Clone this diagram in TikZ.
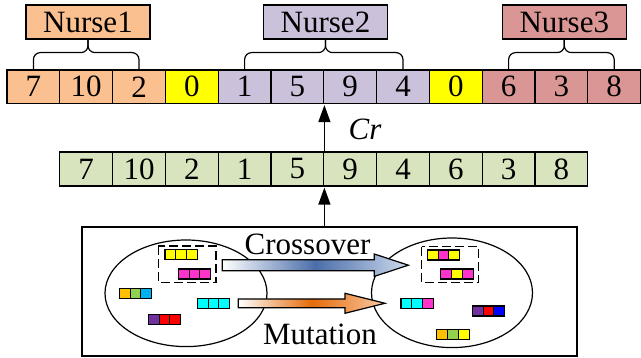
\documentclass[tikz,border=0pt]{standalone}
\usepackage{fontspec}
\setmainfont{Liberation Serif}
\usetikzlibrary{arrows.meta,calc}
\definecolor{cpeach}{HTML}{FAC090}
\definecolor{clav}{HTML}{CCC1DA}
\definecolor{crose}{HTML}{DA9694}
\definecolor{cgreen}{HTML}{D7E4BD}
\definecolor{cyel}{HTML}{FFFF00}
\definecolor{cmag}{HTML}{FF33CC}
\definecolor{corg}{HTML}{FFC000}
\definecolor{cgrn}{HTML}{92D050}
\definecolor{clblue}{HTML}{00B0F0}
\definecolor{ccyan}{HTML}{00FFFF}
\definecolor{cpur}{HTML}{7030A0}
\definecolor{cred}{HTML}{FF0000}
\definecolor{cblue}{HTML}{0000FF}
\definecolor{xblue}{RGB}{75,110,170}
\definecolor{xbluel}{RGB}{205,218,236}
\definecolor{xorg}{RGB}{228,108,10}
\definecolor{xorgl}{RGB}{250,200,165}
\newcommand\mychip[6]{%
  \node[chipcell, fill=#4] (#1a) at (#2+5.4, #3+5) {};
  \node[chipcell, fill=#5] (#1b) at (#2+16.2, #3+5) {};
  \node[chipcell, fill=#6] (#1c) at (#2+27, #3+5) {};
}
\tikzset{
  bigtxt/.style={font=\fontsize{31}{31}\selectfont},
  cell/.style={draw, line width=1.2pt, minimum width=52.8pt, minimum height=33.5pt, inner sep=0pt, bigtxt},
  nursebox/.style={draw, line width=1.2pt, minimum width=124pt, minimum height=34pt, inner sep=0pt, bigtxt},
  bracepath/.style={draw, line width=1.2pt, rounded corners=7pt},
  chipcell/.style={draw, line width=1.1pt, minimum width=10.8pt, minimum height=10pt, inner sep=0pt},
  varrow/.style={draw, line width=1.3pt, -{Triangle[length=17pt,width=12pt]}, shorten >=1pt},
  dashbox/.style={draw, line width=1.3pt, dash pattern=on 9pt off 4pt},
  fatarrow/.style={draw, line width=1.2pt}
}
\begin{document}
\begin{tikzpicture}[x=1pt, y=-1pt]
\useasboundingbox (0,0) rectangle (641,358);
% top row
\foreach \v/\c [count=\i] in {7/cpeach,10/cpeach,2/cpeach,0/cyel,1/clav,5/clav,9/clav,4/clav,0/cyel,6/crose,3/crose,8/crose}
  \node[cell, fill=\c] (t\i) at ({7+52.8*(\i-0.5)}, 86.75) {\v};
% nurse labels
\node[nursebox, fill=cpeach] (n1) at (88,22) {Nurse1};
\node[nursebox, fill=clav] (n2) at (325.5,22) {Nurse2};
\node[nursebox, fill=crose] (n3) at (564.3,22) {Nurse3};
% braces
\draw[bracepath] (t1.north) |- ([yshift=-13pt]n1.south) -- (n1.south);
\draw[bracepath] (t3.north) |- ([yshift=-13pt]n1.south) -- (n1.south);
\draw[bracepath] (t5.north) |- ([yshift=-13pt]n2.south) -- (n2.south);
\draw[bracepath] (t8.north) |- ([yshift=-13pt]n2.south) -- (n2.south);
\draw[bracepath] (t10.north) |- ([yshift=-13pt]n3.south) -- (n3.south);
\draw[bracepath] (t12.north) |- ([yshift=-13pt]n3.south) -- (n3.south);
% middle row
\foreach \v [count=\i] in {7,10,2,1,5,9,4,6,3,8}
  \node[cell, fill=cgreen, minimum height=34pt] (m\i) at ({7+52.8*(\i+0.5)}, 169) {\v};
% Cr label
\node[bigtxt, font=\fontsize{31}{31}\selectfont\itshape, inner sep=0pt] (cr) at (365,129.7) {Cr};
% population box
\node[draw, line width=1.2pt, minimum width=495pt, minimum height=129pt, inner sep=0pt] (pop) at (329.5,291.5) {};
% arrows
\draw[varrow] (pop.north -| m5.south east) -- (m5.south east);
\draw[varrow] (m5.north east) -- (t6.south east);
% ellipses
\draw[line width=1.2pt] (186,293.3) ellipse [x radius=81pt, y radius=53.3pt];
\draw[line width=1.2pt] (452,292.8) ellipse [x radius=80.5pt, y radius=54.8pt];
% dashed groups
\draw[dashbox] (158.3,246) rectangle (216,282.7);
\draw[dashbox] (421.7,246.7) rectangle (478.3,282.7);
% left chips
\mychip{la}{165}{249.3}{cyel}{cyel}{cyel}
\mychip{lb}{178.3}{269}{cmag}{cmag}{cmag}
\mychip{lc}{119.3}{288.3}{corg}{cgrn}{clblue}
\mychip{ld}{197.3}{298.3}{ccyan}{ccyan}{ccyan}
\mychip{le}{148.3}{314.3}{cpur}{cred}{cred}
% right chips
\mychip{ra}{427.3}{250}{cyel}{cmag}{cyel}
\mychip{rb}{440.7}{269}{cmag}{cyel}{cmag}
\mychip{rc}{401}{298.3}{ccyan}{ccyan}{cmag}
\mychip{rd}{472.3}{306}{cpur}{cred}{cblue}
\mychip{re}{436.7}{329.3}{corg}{cgrn}{cyel}
% fat arrows
\path[fatarrow, left color=white, right color=xbluel, middle color=xblue]
  (222.3,259.7) -- (374.3,259.7) -- (374.3,254) -- (408.3,265.2) -- (374.3,276.4) -- (374.3,270.7) -- (222.3,270.7) -- cycle;
\path[fatarrow, left color=white, right color=xorgl, middle color=xorg]
  (238.3,299) -- (345,299) -- (345,293.3) -- (385,303.3) -- (345,313.3) -- (345,307.7) -- (238.3,307.7) -- cycle;
% labels
\node[bigtxt, anchor=base, inner sep=0pt] (xo) at (307.5,254.7) {Crossover};
\node[bigtxt, anchor=base, inner sep=0pt] (mu) at (320,345) {Mutation};
\end{tikzpicture}
\end{document}
